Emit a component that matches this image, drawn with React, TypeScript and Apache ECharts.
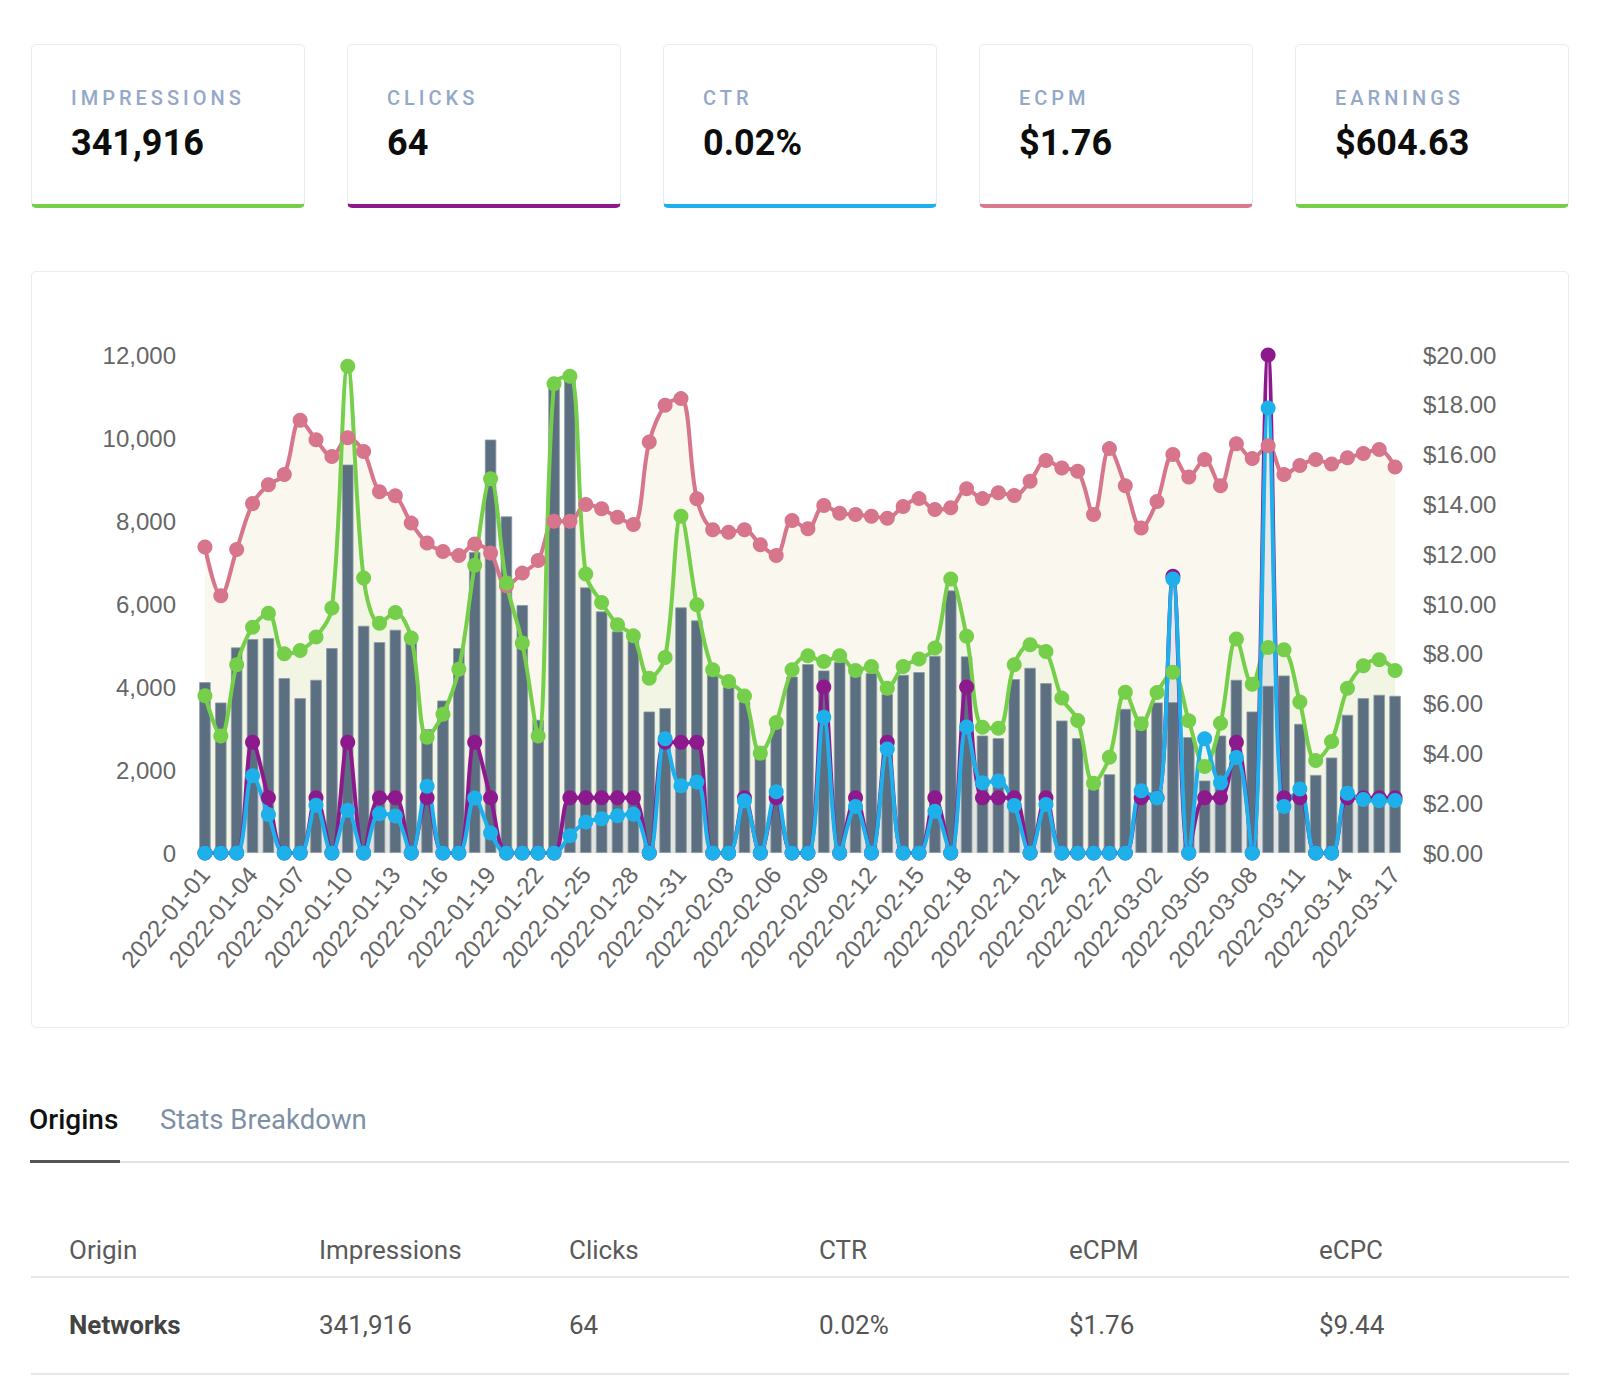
import React, { useEffect, useRef } from "react";
import * as echarts from "echarts";

// ---------- data ----------
const dates: string[] = [
  "2022-01-01","2022-01-02","2022-01-03","2022-01-04","2022-01-05","2022-01-06","2022-01-07","2022-01-08","2022-01-09","2022-01-10",
  "2022-01-11","2022-01-12","2022-01-13","2022-01-14","2022-01-15","2022-01-16","2022-01-17","2022-01-18","2022-01-19","2022-01-20",
  "2022-01-21","2022-01-22","2022-01-23","2022-01-24","2022-01-25","2022-01-26","2022-01-27","2022-01-28","2022-01-29","2022-01-30",
  "2022-01-31","2022-02-01","2022-02-02","2022-02-03","2022-02-04","2022-02-05","2022-02-06","2022-02-07","2022-02-08","2022-02-09",
  "2022-02-10","2022-02-11","2022-02-12","2022-02-13","2022-02-14","2022-02-15","2022-02-16","2022-02-17","2022-02-18","2022-02-19",
  "2022-02-20","2022-02-21","2022-02-22","2022-02-23","2022-02-24","2022-02-25","2022-02-26","2022-02-27","2022-02-28","2022-03-01",
  "2022-03-02","2022-03-03","2022-03-04","2022-03-05","2022-03-06","2022-03-07","2022-03-08","2022-03-09","2022-03-10","2022-03-11",
  "2022-03-12","2022-03-13","2022-03-14","2022-03-15","2022-03-16","2022-03-17",
];

const impressions: number[] = [
  4116, 3626, 4953, 5154, 5178, 4213, 3731, 4173, 4937, 9359,
  5475, 5081, 5379, 5100, 2983, 3674, 4937, 7250, 9962, 8112,
  5974, 3208, 11328, 11450, 6400, 5821, 5339, 5150, 3409, 3489,
  5917, 5604, 4350, 4000, 3650, 2580, 3248, 4253, 4550, 4398,
  4600, 4300, 4334, 3830, 4293, 4358, 4752, 6327, 4736, 2830,
  2766, 4189, 4462, 4092, 3192, 2766, 1560, 1897, 3473, 3192,
  3626, 3634, 2790, 1745, 2830, 4173, 3409, 4028, 4277, 3111,
  1881, 2300, 3329, 3731, 3811, 3787,
];

const clicks: number[] = [
  0, 0, 0, 2, 1, 0, 0, 1, 0, 2,
  0, 1, 1, 0, 1, 0, 0, 2, 1, 0,
  0, 0, 0, 1, 1, 1, 1, 1, 0, 2,
  2, 2, 0, 0, 1, 0, 1, 0, 0, 3,
  0, 1, 0, 2, 0, 0, 1, 0, 3, 1,
  1, 1, 0, 1, 0, 0, 0, 0, 0, 1,
  1, 5, 0, 1, 1, 2, 0, 9, 1, 1,
  0, 0, 1, 1, 1, 1,
];

const ctr: number[] = [
  0, 0, 0, 0.0388, 0.0193, 0, 0, 0.024, 0, 0.0214,
  0, 0.0197, 0.0186, 0, 0.0335, 0, 0, 0.0276, 0.01, 0,
  0, 0, 0, 0.0087, 0.0156, 0.0172, 0.0187, 0.0194, 0, 0.0573,
  0.0338, 0.0357, 0, 0, 0.0262, 0, 0.0308, 0, 0, 0.0682,
  0, 0.0233, 0, 0.0522, 0, 0, 0.021, 0, 0.0633, 0.0353,
  0.0362, 0.0239, 0, 0.0244, 0, 0, 0, 0, 0, 0.0313,
  0.0276, 0.1376, 0, 0.0573, 0.0353, 0.0479, 0, 0.2234, 0.0234, 0.0321,
  0, 0, 0.03, 0.0268, 0.0262, 0.0264,
];

const earnings: number[] = [
  6.32, 4.7, 7.56, 9.07, 9.63, 8.0, 8.13, 8.67, 9.84, 19.55,
  11.04, 9.23, 9.66, 8.63, 4.65, 5.57, 7.38, 11.56, 15.03, 10.84,
  8.43, 4.7, 18.85, 19.15, 11.2, 10.06, 9.17, 8.72, 7.02, 7.85,
  13.52, 9.97, 7.36, 6.89, 6.31, 4.01, 5.24, 7.36, 7.92, 7.69,
  7.92, 7.33, 7.49, 6.62, 7.49, 7.79, 8.23, 11.0, 8.7, 5.05,
  5.01, 7.56, 8.36, 8.09, 6.22, 5.32, 2.8, 3.85, 6.46, 5.19,
  6.45, 7.26, 5.31, 3.47, 5.21, 8.59, 6.78, 8.25, 8.16, 6.06,
  3.71, 4.48, 6.62, 7.52, 7.76, 7.33,
];

const ecpm: number[] = [
  1.536, 1.291, 1.523, 1.754, 1.849, 1.9, 2.173, 2.075, 1.991, 2.084,
  2.016, 1.813, 1.794, 1.656, 1.556, 1.514, 1.494, 1.551, 1.506, 1.341,
  1.405, 1.468, 1.665, 1.665, 1.749, 1.728, 1.685, 1.649, 2.063, 2.248,
  2.281, 1.778, 1.623, 1.61, 1.623, 1.548, 1.494, 1.669, 1.628, 1.745,
  1.706, 1.699, 1.69, 1.681, 1.74, 1.779, 1.724, 1.733, 1.829, 1.779,
  1.808, 1.795, 1.866, 1.97, 1.933, 1.916, 1.699, 2.03, 1.844, 1.631,
  1.765, 2.0, 1.888, 1.975, 1.844, 2.055, 1.98, 2.045, 1.9, 1.945,
  1.975, 1.953, 1.984, 2.005, 2.025, 1.938,
];

const leftTicks = { min: 0, max: 12000, interval: 2000 };
const rightTicks = { min: 0, max: 20, interval: 2 };

const kpiLabels: string[] = ["IMPRESSIONS", "CLICKS", "CTR", "ECPM", "EARNINGS"];
const kpiValues: string[] = ["341,916", "64", "0.02%", "$1.76", "$604.63"];

const tabLabels: string[] = ["Origins", "Stats Breakdown"];
const tableHeaders: string[] = ["Origin", "Impressions", "Clicks", "CTR", "eCPM", "eCPC"];
const tableRow: string[] = ["Networks", "341,916", "64", "0.02%", "$1.76", "$9.44"];

// ---------- styles ----------
const GREEN = "#76cf4a";
const PURPLE = "#8d1a8d";
const BLUE = "#1eb0eb";
const PINK = "#d6758b";
const BAR = "#5b6f81";
const kpiColors = [GREEN, PURPLE, BLUE, "#d97a8c", GREEN];

const FONT = "Roboto, 'Noto Sans', sans-serif";
const CHART_FONT = "'Liberation Sans', Arial, sans-serif";

function Chart() {
  const ref = useRef<HTMLDivElement>(null);
  useEffect(() => {
    if (!ref.current) return;
    const chart = echarts.init(ref.current, null, { renderer: "svg" });
    const smooth = 0.35;
    const lines = [
      { name: "eCPM", data: ecpm, axis: 4, color: PINK, area: "rgba(235,224,190,0.26)" },
      { name: "Earnings", data: earnings, axis: 1, color: GREEN, area: "rgba(118,207,74,0.06)" },
      { name: "Clicks", data: clicks, axis: 2, color: PURPLE, area: "rgba(141,26,141,0.05)" },
      { name: "CTR", data: ctr, axis: 3, color: BLUE, area: "rgba(30,176,235,0.05)" },
    ];
    const areaSeries = lines.map((l) => ({
      name: l.name + " area",
      type: "line",
      yAxisIndex: l.axis,
      data: l.data,
      smooth,
      symbol: "none",
      silent: true,
      lineStyle: { width: 0, opacity: 0 },
      areaStyle: { color: l.area, opacity: 1 },
      z: 1,
    }));
    const lineSeries = lines.map((l) => ({
      name: l.name,
      type: "line",
      yAxisIndex: l.axis,
      data: l.data,
      smooth,
      symbol: "circle",
      symbolSize: 15,
      showAllSymbol: true,
      lineStyle: { width: 4, color: l.color },
      itemStyle: { color: l.color },
      z: 3,
    }));
    const axisLabel = { fontSize: 24, color: "#666", fontFamily: CHART_FONT };
    chart.setOption({
      animation: false,
      textStyle: { fontFamily: CHART_FONT },
      grid: { left: 166, right: 166, top: 84, bottom: 175 },
      xAxis: {
        type: "category",
        data: dates,
        boundaryGap: true,
        axisLine: { show: false },
        axisTick: { show: false },
        axisLabel: { ...axisLabel, rotate: 50, interval: 2, margin: 17 },
      },
      yAxis: [
        {
          type: "value",
          ...leftTicks,
          splitLine: { show: false },
          axisLine: { show: false },
          axisTick: { show: false },
          axisLabel: { ...axisLabel, margin: 21, formatter: (v: number) => v.toLocaleString("en-US") },
        },
        {
          type: "value",
          position: "right",
          ...rightTicks,
          splitLine: { show: false },
          axisLine: { show: false },
          axisTick: { show: false },
          axisLabel: { ...axisLabel, margin: 20, formatter: (v: number) => "$" + v.toFixed(2) },
        },
        { type: "value", min: 0, max: 9, show: false, splitLine: { show: false } },
        { type: "value", min: 0, max: 0.25, show: false, splitLine: { show: false } },
        { type: "value", min: 0, max: 2.5, show: false, splitLine: { show: false } },
      ],
      series: [
        ...areaSeries,
        {
          name: "Impressions",
          type: "bar",
          yAxisIndex: 0,
          data: impressions,
          barCategoryGap: "28%",
          itemStyle: { color: BAR, borderColor: "#8d9aa7", borderWidth: 0.8 },
          z: 2,
        },
        ...lineSeries,
      ],
    });
    return () => chart.dispose();
  }, []);
  return (
    <div
      ref={ref}
      style={{ position: "absolute", left: 31, top: 271, width: 1538, height: 757 }}
    />
  );
}

export default function App() {
  const cardLefts = [31, 347, 663, 979, 1295];
  const colLefts = [69, 319, 569, 819, 1069, 1319];
  return (
    <div
      style={{
        position: "absolute",
        left: 0,
        top: 0,
        width: 1600,
        height: 1376,
        background: "#fff",
        fontFamily: FONT,
        overflow: "hidden",
      }}
    >
      {kpiLabels.map((label, i) => (
        <div
          key={label}
          style={{
            position: "absolute",
            left: cardLefts[i],
            top: 44,
            width: 274,
            height: 164,
            boxSizing: "border-box",
            border: "1.5px solid #e7ecf3",
            borderBottom: `4px solid ${kpiColors[i]}`,
            borderRadius: 5,
            background: "#fff",
          }}
        >
          <div
            style={{
              position: "absolute",
              left: 39,
              top: 43,
              fontSize: 20,
              lineHeight: "20px",
              fontWeight: 500,
              letterSpacing: 4,
              color: "#94a8c8",
              whiteSpace: "nowrap",
            }}
          >
            {label}
          </div>
          <div
            style={{
              position: "absolute",
              left: 39,
              top: 80,
              fontSize: 36,
              lineHeight: "36px",
              fontWeight: 700,
              color: "#0d0d0d",
              whiteSpace: "nowrap",
            }}
          >
            {kpiValues[i]}
          </div>
        </div>
      ))}

      <div
        style={{
          position: "absolute",
          left: 31,
          top: 271,
          width: 1538,
          height: 757,
          boxSizing: "border-box",
          border: "1.5px solid #e8edf3",
          borderRadius: 5,
        }}
      />
      <Chart />

      <div
        style={{
          position: "absolute",
          left: 29,
          top: 1106,
          fontSize: 28,
          lineHeight: "28px",
          fontWeight: 500,
          color: "#111",
          whiteSpace: "nowrap",
        }}
      >
        {tabLabels[0]}
      </div>
      <div
        style={{
          position: "absolute",
          left: 160,
          top: 1106,
          fontSize: 27.5,
          lineHeight: "28px",
          fontWeight: 400,
          color: "#7e8fa6",
          whiteSpace: "nowrap",
        }}
      >
        {tabLabels[1]}
      </div>
      <div style={{ position: "absolute", left: 31, top: 1161, width: 1538, height: 2, background: "#dfe2e6" }} />
      <div style={{ position: "absolute", left: 30, top: 1160, width: 90, height: 3, background: "#555" }} />

      {tableHeaders.map((h, i) => (
        <div
          key={h}
          style={{
            position: "absolute",
            left: colLefts[i],
            top: 1237,
            fontSize: 26,
            lineHeight: "26px",
            color: "#5a5a5a",
            whiteSpace: "nowrap",
          }}
        >
          {h}
        </div>
      ))}
      <div style={{ position: "absolute", left: 31, top: 1276, width: 1538, height: 2, background: "#e4e7eb" }} />
      {tableRow.map((c, i) => (
        <div
          key={i}
          style={{
            position: "absolute",
            left: colLefts[i],
            top: 1312,
            fontSize: 26,
            lineHeight: "26px",
            fontWeight: i === 0 ? 700 : 400,
            color: i === 0 ? "#444" : "#555",
            whiteSpace: "nowrap",
          }}
        >
          {c}
        </div>
      ))}
      <div style={{ position: "absolute", left: 31, top: 1373, width: 1538, height: 2, background: "#e4e7eb" }} />
    </div>
  );
}
